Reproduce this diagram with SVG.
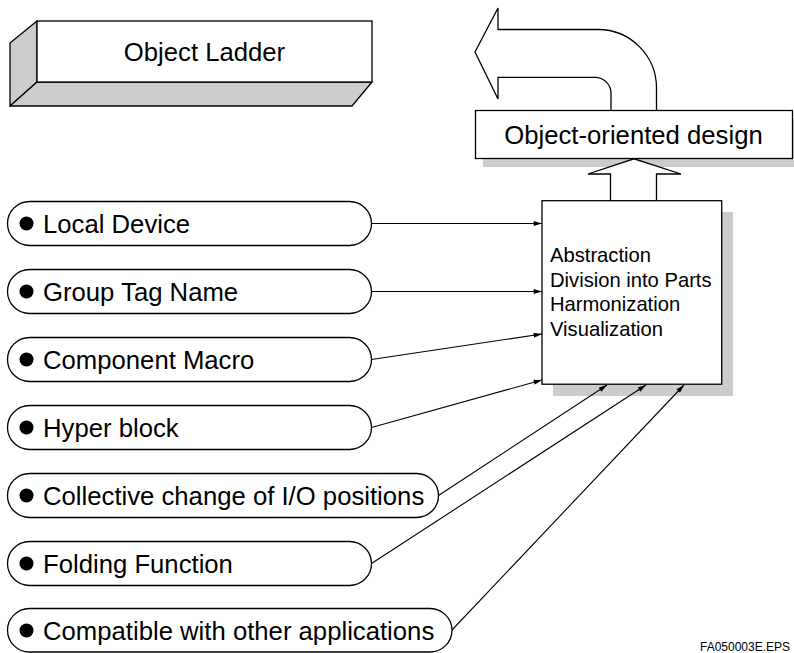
<svg xmlns="http://www.w3.org/2000/svg" width="794" height="653" viewBox="0 0 794 653">
  <defs>
    <marker id="head" viewBox="0 0 10 6" refX="10" refY="3" markerWidth="9" markerHeight="5" markerUnits="userSpaceOnUse" orient="auto">
      <path d="M0,0 L10,3 L0,6 Z" fill="#000"/>
    </marker>
  </defs>
  <style>
    .txt { font-family: "Liberation Sans", Arial, Helvetica, sans-serif; fill: #000; }
    .big { font-size: 25.7px; }
    .mid { font-size: 20.2px; }
    .small { font-size: 12px; }
    .box { fill: #fff; stroke: #000; stroke-width: 1.3; }
    .side { fill: #cccccc; stroke: #000; stroke-width: 1.3; stroke-linejoin: round; }
    .shadow { fill: #cccccc; stroke: none; }
    .pill { fill: #fff; stroke: #000; stroke-width: 1.3; }
    .link { fill: none; stroke: #000; stroke-width: 1.1; marker-end: url(#head); }
    .arrow { fill: #fff; stroke: #000; stroke-width: 1.3; stroke-linejoin: miter; }
  </style>

  <rect width="794" height="653" fill="#fff"/>

  <!-- title block drawn as a solid bar -->
  <g id="object-ladder">
    <polygon class="side" points="37,21 10,43 10,106 37,82"/>
    <polygon class="side" points="37,82 372,82 352,106 10,106"/>
    <rect class="box" x="37" y="21" width="335" height="61"/>
    <text class="txt big" x="204.5" y="61" text-anchor="middle">Object Ladder</text>
  </g>

  <!-- bent arrow leaving the design box -->
  <g id="return-arrow">
    <path class="arrow" d="M475,52 L498,8 L498,29.5 L598,29.5 A58.5,58.5 0 0 1 656.5,88 L656.5,111 L611,111 L611,93 A16,16 0 0 0 595,77.3 L498,77.3 L498,99 Z"/>
  </g>

  <g id="object-oriented-design">
    <rect class="shadow" x="483" y="118" width="317" height="49"/>
    <rect class="box" x="475.5" y="110.5" width="317" height="48"/>
    <text class="txt big" x="633.5" y="143.5" text-anchor="middle">Object-oriented design</text>
  </g>

  <!-- block arrow from the methods box up to the design box -->
  <g id="up-arrow">
    <polygon class="arrow" points="610.5,201 610.5,174 588,174 634,158.8 681,174 656.5,174 656.5,201"/>
  </g>

  <g id="methods">
    <rect class="shadow" x="553" y="212" width="180" height="184"/>
    <rect class="box" x="542" y="200.7" width="179.7" height="183.5"/>
    <text class="txt mid" x="550" y="261.5">Abstraction</text>
    <text class="txt mid" x="550" y="286.5">Division into Parts</text>
    <text class="txt mid" x="550" y="310.5">Harmonization</text>
    <text class="txt mid" x="550" y="335.5">Visualization</text>
  </g>

  <!-- feature list -->
  <g id="local-device">
    <rect class="pill" x="7.5" y="201.5" width="364" height="44" rx="22" ry="22"/>
    <circle cx="26.5" cy="223.5" r="7"/>
    <text class="txt big" x="43" y="233">Local Device</text>
  </g>
  <g id="group-tag-name">
    <rect class="pill" x="7.5" y="269.5" width="364" height="44" rx="22" ry="22"/>
    <circle cx="26.5" cy="291.5" r="7"/>
    <text class="txt big" x="43" y="301">Group Tag Name</text>
  </g>
  <g id="component-macro">
    <rect class="pill" x="7.5" y="337.5" width="364" height="44" rx="22" ry="22"/>
    <circle cx="26.5" cy="359.5" r="7"/>
    <text class="txt big" x="43" y="369">Component Macro</text>
  </g>
  <g id="hyper-block">
    <rect class="pill" x="7.5" y="405.5" width="364" height="44" rx="22" ry="22"/>
    <circle cx="26.5" cy="427.5" r="7"/>
    <text class="txt big" x="43" y="437">Hyper block</text>
  </g>
  <g id="collective-change">
    <rect class="pill" x="7.5" y="473.5" width="431" height="44" rx="22" ry="22"/>
    <circle cx="26.5" cy="495.5" r="7"/>
    <text class="txt big" x="43" y="505">Collective change of I/O positions</text>
  </g>
  <g id="folding-function">
    <rect class="pill" x="7.5" y="541.5" width="364" height="44" rx="22" ry="22"/>
    <circle cx="26.5" cy="563.5" r="7"/>
    <text class="txt big" x="43" y="573">Folding Function</text>
  </g>
  <g id="compatible">
    <rect class="pill" x="7.5" y="608.5" width="444.5" height="43.5" rx="22" ry="22"/>
    <circle cx="26.5" cy="630.5" r="7"/>
    <text class="txt big" x="43" y="640">Compatible with other applications</text>
  </g>

  <g id="connectors">
    <line class="link" x1="371.5" y1="223.5" x2="542" y2="223.5"/>
    <line class="link" x1="371.5" y1="291.5" x2="542" y2="291.5"/>
    <line class="link" x1="371.5" y1="359.5" x2="542" y2="334"/>
    <line class="link" x1="371.5" y1="427.5" x2="542" y2="380"/>
    <line class="link" x1="438.5" y1="495.5" x2="607" y2="385"/>
    <line class="link" x1="371.5" y1="563.5" x2="646" y2="385"/>
    <line class="link" x1="452" y1="630" x2="684" y2="385"/>
  </g>

  <text class="txt small" x="700" y="650.5">FA050003E.EPS</text>
</svg>
